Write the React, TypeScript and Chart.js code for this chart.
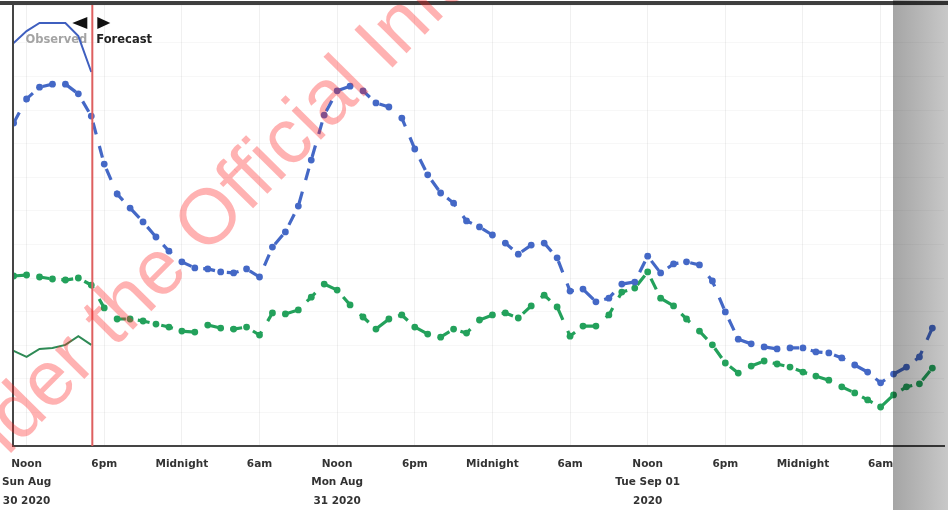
import { useEffect, useRef } from "react";
import { Chart, registerables } from "chart.js";

Chart.register(...registerables);

// Hours relative to Sun Aug 30 2020, noon
const hours = [
  -1, 0, 1, 2, 3, 4, 5, 6, 7, 8, 9, 10, 11, 12, 13, 14, 15, 16, 17, 18, 19, 20, 21, 22, 23,
  24, 25, 26, 27, 28, 29, 30, 31, 32, 33, 34, 35, 36, 37, 38, 39, 40, 41, 42, 43, 44, 45, 46, 47,
  48, 49, 50, 51, 52, 53, 54, 55, 56, 57, 58, 59, 60, 61, 62, 63, 64, 65, 66, 67, 68, 69, 70,
];

const forecastBlue = [
  96.1, 103.3, 106.8, 107.7, 107.7, 104.8, 98.2, 83.9, 75.0, 70.8, 66.7, 62.2, 58.0, 54.8, 53.0,
  52.7, 51.8, 51.5, 52.7, 50.3, 59.2, 63.7, 71.4, 85.1, 98.5, 105.7, 107.1, 105.7, 102.1, 100.9,
  97.6, 88.4, 80.7, 75.3, 72.3, 67.0, 65.2, 62.8, 60.4, 57.1, 59.8, 60.4, 56.0, 46.1, 46.7, 42.9,
  44.0, 48.2, 48.8, 56.5, 51.5, 54.2, 54.8, 53.9, 49.1, 39.9, 31.8, 30.4, 29.5, 28.9, 29.2, 29.2,
  28.0, 27.7, 26.2, 24.1, 22.0, 18.8, 21.4, 23.5, 26.5, 35.1,
];

const forecastGreen = [
  50.6, 50.9, 50.3, 49.7, 49.4, 50.0, 47.9, 41.1, 37.8, 37.8, 37.2, 36.3, 35.4, 34.2, 33.9, 36.0,
  35.1, 34.8, 35.4, 33.0, 39.6, 39.3, 40.5, 44.3, 48.2, 46.4, 42.0, 38.4, 34.8, 37.8, 39.0, 35.4,
  33.3, 32.4, 34.8, 33.6, 37.5, 39.0, 39.6, 38.1, 41.7, 44.9, 41.4, 32.7, 35.7, 35.7, 39.0, 45.8,
  47.0, 51.8, 44.0, 41.7, 37.8, 34.2, 30.1, 24.7, 21.7, 23.8, 25.3, 24.4, 23.5, 22.0, 20.8, 19.6,
  17.6, 15.8, 13.7, 11.6, 15.2, 17.6, 18.5, 23.2,
];

const observedHours = [-1, 0, 1, 2, 3, 4, 5];
const observedBlue = [119.9, 123.5, 125.9, 125.9, 125.9, 122.0, 111.3];
const observedGreen = [28.3, 26.5, 28.9, 29.2, 30.1, 32.7, 30.1];

const tickHours = [0, 6, 12, 18, 24, 30, 36, 42, 48, 54, 60, 66];
const tickLabels: (string | string[])[] = [
  ["Noon", "Sun Aug", "30 2020"],
  "6pm",
  "Midnight",
  "6am",
  ["Noon", "Mon Aug", "31 2020"],
  "6pm",
  "Midnight",
  "6am",
  ["Noon", "Tue Sep 01", "2020"],
  "6pm",
  "Midnight",
  "6am",
];

const nowHour = 5.08;
const watermarkText = "Released under the Official Information Act";
const watermarkPrefix = "Released under the ";

const BLUE = "#4468c6";
const GREEN = "#23a15b";

const decor = {
  id: "decor",
  beforeDatasetsDraw(chart: any) {
    const { ctx } = chart;
    const xNow = chart.scales.x.getPixelForValue(nowHour);
    ctx.save();
    ctx.font = 'bold 11.5px "DejaVu Sans"';
    ctx.textBaseline = "middle";
    ctx.fillStyle = "#a4a4a4";
    ctx.textAlign = "right";
    ctx.fillText("Observed", xNow - 5, 40);
    ctx.fillStyle = "#222";
    ctx.textAlign = "left";
    ctx.fillText("Forecast", xNow + 4, 40);
    ctx.restore();
  },
  afterDatasetsDraw(chart: any) {
    const { ctx, chartArea: a } = chart;
    const xNow = chart.scales.x.getPixelForValue(nowHour);
    ctx.save();
    ctx.strokeStyle = "rgb(222,95,95)";
    ctx.lineWidth = 2;
    ctx.beginPath();
    ctx.moveTo(xNow, a.top);
    ctx.lineTo(xNow, a.bottom);
    ctx.stroke();
    ctx.fillStyle = "#111";
    ctx.beginPath();
    ctx.moveTo(xNow - 20, 23);
    ctx.lineTo(xNow - 5, 17);
    ctx.lineTo(xNow - 5, 29);
    ctx.closePath();
    ctx.fill();
    ctx.beginPath();
    ctx.moveTo(xNow + 18, 23);
    ctx.lineTo(xNow + 5, 17);
    ctx.lineTo(xNow + 5, 29);
    ctx.closePath();
    ctx.fill();
    ctx.restore();
  },
  afterDraw(chart: any) {
    const { ctx, chartArea: a, width, height } = chart;
    ctx.save();
    // frame lines
    ctx.strokeStyle = "#454545";
    ctx.lineWidth = 2;
    ctx.beginPath();
    ctx.moveTo(a.left, a.top);
    ctx.lineTo(a.left, a.bottom);
    ctx.stroke();
    ctx.fillStyle = "#3f3f3f";
    ctx.fillRect(0, 1, width, 4);

    // watermark
    ctx.font = '78px "Liberation Sans"';
    ctx.fillStyle = "rgba(255,30,30,0.34)";
    ctx.textBaseline = "alphabetic";
    ctx.textAlign = "left";
    const pre = ctx.measureText(watermarkPrefix).width;
    ctx.translate(205.6, 256.4);
    ctx.rotate(-0.791);
    ctx.fillText(watermarkText, -pre, 0);
    ctx.setTransform(chart.currentDevicePixelRatio, 0, 0, chart.currentDevicePixelRatio, 0, 0);

    // scanner shading on the right
    ctx.globalCompositeOperation = "multiply";
    const g = ctx.createLinearGradient(893, 0, width, 0);
    g.addColorStop(0, "rgb(165,165,165)");
    g.addColorStop(1, "rgb(200,200,200)");
    ctx.fillStyle = g;
    ctx.fillRect(893, 0, width - 893, height);
    ctx.restore();
  },
};

export default function App() {
  const ref = useRef<HTMLCanvasElement | null>(null);

  useEffect(() => {
    if (!ref.current) return;
    const chart = new Chart(ref.current, {
      type: "line",
      data: {
        datasets: [
          {
            label: "Observed blue",
            data: observedHours.map((h, i) => ({ x: h, y: observedBlue[i] })),
            borderColor: "#3f5fbf",
            borderWidth: 2,
            pointRadius: 0,
            tension: 0,
          },
          {
            label: "Observed green",
            data: observedHours.map((h, i) => ({ x: h, y: observedGreen[i] })),
            borderColor: "#2e8a55",
            borderWidth: 2,
            pointRadius: 0,
            tension: 0,
          },
          {
            label: "Forecast blue",
            data: hours.map((h, i) => ({ x: h, y: forecastBlue[i] })),
            borderColor: BLUE,
            backgroundColor: BLUE,
            borderWidth: 3.2,
            borderDash: [12, 12],
            pointRadius: 3.4,
            pointBorderWidth: 0,
            pointBackgroundColor: BLUE,
            tension: 0,
          },
          {
            label: "Forecast green",
            data: hours.map((h, i) => ({ x: h, y: forecastGreen[i] })),
            borderColor: GREEN,
            backgroundColor: GREEN,
            borderWidth: 3.2,
            borderDash: [12, 12],
            pointRadius: 3.4,
            pointBorderWidth: 0,
            pointBackgroundColor: GREEN,
            tension: 0,
          },
        ],
      },
      options: {
        animation: false,
        responsive: true,
        maintainAspectRatio: false,
        layout: { padding: { left: 13, top: 5, right: 0, bottom: 0 } },
        plugins: { legend: { display: false }, tooltip: { enabled: false } },
        scales: {
          x: {
            type: "linear",
            min: -1.05,
            max: 70.9,
            afterBuildTicks: (s: any) => {
              s.ticks = tickHours.map((v) => ({ value: v }));
            },
            afterFit: (s: any) => {
              s.height = 64;
              s.paddingLeft = 0;
              s.paddingRight = 0;
            },
            ticks: {
              autoSkip: false,
              maxRotation: 0,
              minRotation: 0,
              padding: 9,
              color: "#333",
              font: { family: "DejaVu Sans", size: 10.5, weight: "bold", lineHeight: "18.5px" } as any,
              callback: (v: any) => {
                const i = tickHours.indexOf(Number(v));
                return i >= 0 ? tickLabels[i] : "";
              },
            },
            grid: { color: "rgba(0,0,0,0.06)", drawTicks: false },
            border: { display: true, color: "#454545", width: 2 },
          },
          y: {
            min: 0,
            max: 131.25,
            ticks: { display: false, stepSize: 10 },
            grid: { color: "rgba(0,0,0,0.03)", drawTicks: false },
            border: { display: false },
            afterFit: (s: any) => {
              s.width = 0;
            },
          },
        },
      },
      plugins: [decor],
    });
    return () => chart.destroy();
  }, []);

  return (
    <div style={{ position: "fixed", left: 0, top: 0, width: 948, height: 510, background: "#fff" }}>
      <canvas ref={ref} />
    </div>
  );
}
